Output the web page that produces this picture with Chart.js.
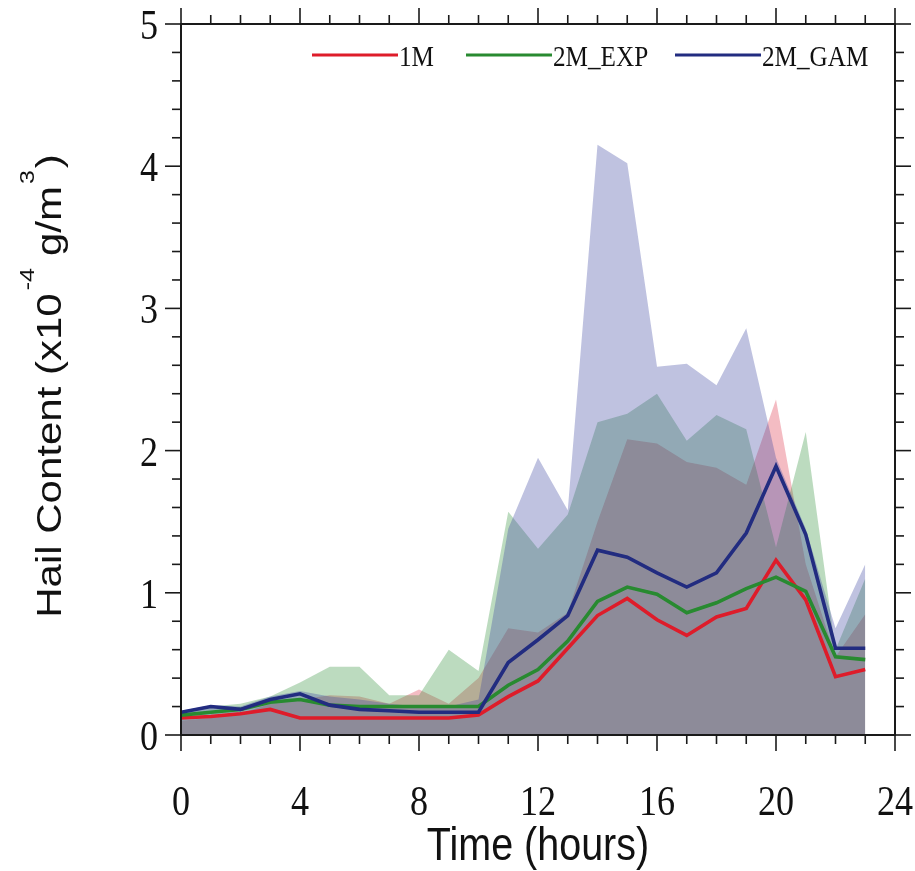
<!DOCTYPE html>
<html>
<head>
<meta charset="utf-8">
<script src="https://cdn.jsdelivr.net/npm/chart.js@4.4.1/dist/chart.umd.min.js"></script>
<style>
  html, body { margin: 0; padding: 0; background: #fff; }
</style>
</head>
<body>
<canvas id="hail" width="915" height="871"></canvas>
<script>
  "use strict";

  // --- data ---

  var hours = [0, 1, 2, 3, 4, 5, 6, 7, 8, 9, 10, 11, 12, 13, 14, 15, 16, 17, 18, 19, 20, 21, 22, 23];

  var seriesNames = ["1M", "2M_EXP", "2M_GAM"];

  // mean hail content (x10^-4 g/m3)
  var mean1M = [0.12, 0.13, 0.15, 0.18, 0.12, 0.12, 0.12, 0.12, 0.12, 0.12, 0.14, 0.27,
                0.38, 0.61, 0.84, 0.96, 0.81, 0.70, 0.83, 0.89, 1.23, 0.95, 0.41, 0.46];
  var mean2MExp = [0.14, 0.16, 0.18, 0.23, 0.25, 0.21, 0.20, 0.20, 0.20, 0.20, 0.20, 0.35,
                   0.46, 0.66, 0.94, 1.04, 0.99, 0.86, 0.93, 1.03, 1.11, 1.01, 0.55, 0.53];
  var mean2MGam = [0.16, 0.20, 0.18, 0.25, 0.29, 0.21, 0.18, 0.17, 0.16, 0.16, 0.16, 0.51,
                   0.67, 0.84, 1.30, 1.25, 1.14, 1.04, 1.14, 1.42, 1.89, 1.41, 0.61, 0.61];

  // upper edge of the shaded spread
  var max1M = [0.10, 0.12, 0.15, 0.22, 0.25, 0.28, 0.27, 0.22, 0.32, 0.22, 0.40, 0.75,
               0.72, 0.86, 1.50, 2.08, 2.05, 1.92, 1.88, 1.76, 2.36, 1.20, 0.55, 0.85];
  var max2MExp = [0.15, 0.20, 0.22, 0.27, 0.37, 0.48, 0.48, 0.28, 0.28, 0.60, 0.45, 1.57,
                  1.31, 1.55, 2.20, 2.26, 2.40, 2.07, 2.25, 2.15, 1.32, 2.13, 0.60, 1.10];
  var max2MGam = [0.17, 0.21, 0.20, 0.27, 0.31, 0.27, 0.25, 0.22, 0.20, 0.20, 0.25, 1.45,
                  1.95, 1.58, 4.15, 4.02, 2.59, 2.61, 2.46, 2.86, 1.95, 1.45, 0.75, 1.20];

  var xTickValues = [0, 4, 8, 12, 16, 20, 24];
  var xTickLabels = ["0", "4", "8", "12", "16", "20", "24"];
  var yTickValues = [0, 1, 2, 3, 4, 5];
  var yTickLabels = ["0", "1", "2", "3", "4", "5"];

  var xTitle = "Time (hours)";
  // y title in pieces: [text, isSuperscript]
  var yTitleParts = [["Hail Content (x10", false], ["-4", true], ["g/m", false], ["3", true], [")", false]];

  // --- styling ---

  var lineColors = ["rgb(222, 28, 42)", "rgb(40, 138, 48)", "rgb(34, 44, 128)"];
  var fillColors = ["rgba(220, 40, 60, 0.31)", "rgba(40, 140, 50, 0.31)", "rgba(60, 70, 160, 0.33)"];

  var SX = 0.84; // the source figure is squeezed sideways, text included
  var SERIF = '"Liberation Serif", "Times New Roman", serif';
  var SANS = '"Liberation Sans", Arial, sans-serif';

  function pts(values) {
    return hours.map(function (h, i) {
      return { x: h, y: values[i] };
    });
  }

  function fillSet(label, values, idx, order) {
    return {
      label: label,
      data: pts(values),
      fill: "origin",
      backgroundColor: fillColors[idx],
      borderWidth: 0,
      borderColor: "transparent",
      pointRadius: 0,
      tension: 0,
      order: order,
    };
  }

  function lineSet(label, values, idx, order) {
    return {
      label: label,
      data: pts(values),
      fill: false,
      borderColor: lineColors[idx],
      borderWidth: 3.6,
      pointRadius: 0,
      tension: 0,
      order: order,
    };
  }

  function text(ctx, str, x, y, font, align, baseline, rot) {
    ctx.save();
    ctx.translate(x, y);
    ctx.scale(SX, 1);
    if (rot) ctx.rotate(rot);
    ctx.font = font;
    ctx.textAlign = align;
    ctx.textBaseline = baseline;
    ctx.fillStyle = "#111";
    ctx.fillText(str, 0, 0);
    ctx.restore();
  }

  function seg(ctx, x1, y1, x2, y2) {
    ctx.beginPath();
    ctx.moveTo(x1, y1);
    ctx.lineTo(x2, y2);
    ctx.stroke();
  }

  // NCL-like frame: box, outward ticks on all four sides, labels, titles, legend
  var frame = {
    id: "nclFrame",
    afterDraw: function (chart) {
      var ctx = chart.ctx;
      var a = chart.chartArea;
      var xs = chart.scales.x;
      var ys = chart.scales.y;
      var i, p, len;

      ctx.save();
      ctx.strokeStyle = "#1a1a1a";
      ctx.lineWidth = 2;
      ctx.strokeRect(a.left, a.top, a.right - a.left, a.bottom - a.top);

      ctx.lineWidth = 1.6;
      for (i = 0; i <= 24; i++) {
        p = xs.getPixelForValue(i);
        len = i % 4 === 0 ? 16 : 9;
        seg(ctx, p, a.bottom, p, a.bottom + len);
        seg(ctx, p, a.top, p, a.top - len);
      }
      for (i = 0; i <= 25; i++) {
        p = ys.getPixelForValue(i * 0.2);
        len = i % 5 === 0 ? 16 : 9;
        seg(ctx, a.left, p, a.left - len, p);
        seg(ctx, a.right, p, a.right + len, p);
      }

      var tickFont = "43px " + SERIF;
      for (i = 0; i < xTickValues.length; i++) {
        text(ctx, xTickLabels[i], xs.getPixelForValue(xTickValues[i]), a.bottom + 80,
          tickFont, "center", "alphabetic");
      }
      for (i = 0; i < yTickValues.length; i++) {
        text(ctx, yTickLabels[i], a.left - 23, ys.getPixelForValue(yTickValues[i]) + 15,
          tickFont, "right", "alphabetic");
      }

      // x title
      text(ctx, xTitle, (a.left + a.right) / 2, 860, "47px " + SANS, "center", "alphabetic");

      // y title, rotated, with raised exponents
      var big = "42px " + SANS;
      var small = "25px " + SANS;
      var gaps = [0, 3, 12, 2, 2];
      var total = 0;
      var widths = [];
      for (i = 0; i < yTitleParts.length; i++) {
        ctx.font = yTitleParts[i][1] ? small : big;
        widths.push(ctx.measureText(yTitleParts[i][0]).width);
        total += widths[i] + gaps[i];
      }
      ctx.save();
      ctx.translate(61, 386);
      ctx.scale(SX, 1);
      ctx.rotate(-Math.PI / 2);
      ctx.fillStyle = "#111";
      ctx.textAlign = "left";
      ctx.textBaseline = "alphabetic";
      var u = -total / 2;
      for (i = 0; i < yTitleParts.length; i++) {
        u += gaps[i];
        ctx.font = yTitleParts[i][1] ? small : big;
        ctx.fillText(yTitleParts[i][0], u, yTitleParts[i][1] ? -32 : 0);
        u += widths[i];
      }
      ctx.restore();

      // legend: line then label, top of the plot
      var legendX = [312, 466, 675];
      var lineLen = 86;
      ctx.lineWidth = 3;
      for (i = 0; i < seriesNames.length; i++) {
        ctx.strokeStyle = lineColors[i];
        seg(ctx, legendX[i], 55, legendX[i] + lineLen, 55);
        text(ctx, seriesNames[i], legendX[i] + lineLen + 1, 66, "30px " + SERIF, "left", "alphabetic");
      }
      ctx.restore();
    },
  };

  new Chart(document.getElementById("hail"), {
    type: "line",
    data: {
      datasets: [
        fillSet("1M spread", max1M, 0, 6),
        fillSet("2M_EXP spread", max2MExp, 1, 5),
        fillSet("2M_GAM spread", max2MGam, 2, 4),
        lineSet(seriesNames[0], mean1M, 0, 3),
        lineSet(seriesNames[1], mean2MExp, 1, 2),
        lineSet(seriesNames[2], mean2MGam, 2, 1),
      ],
    },
    options: {
      responsive: false,
      animation: false,
      layout: { padding: { left: 181, right: 20, top: 24, bottom: 136 } },
      plugins: {
        legend: { display: false },
        tooltip: { enabled: false },
      },
      scales: {
        x: { type: "linear", min: 0, max: 24, display: false },
        y: { type: "linear", min: 0, max: 5, display: false },
      },
    },
    plugins: [frame],
  });
</script>
</body>
</html>
